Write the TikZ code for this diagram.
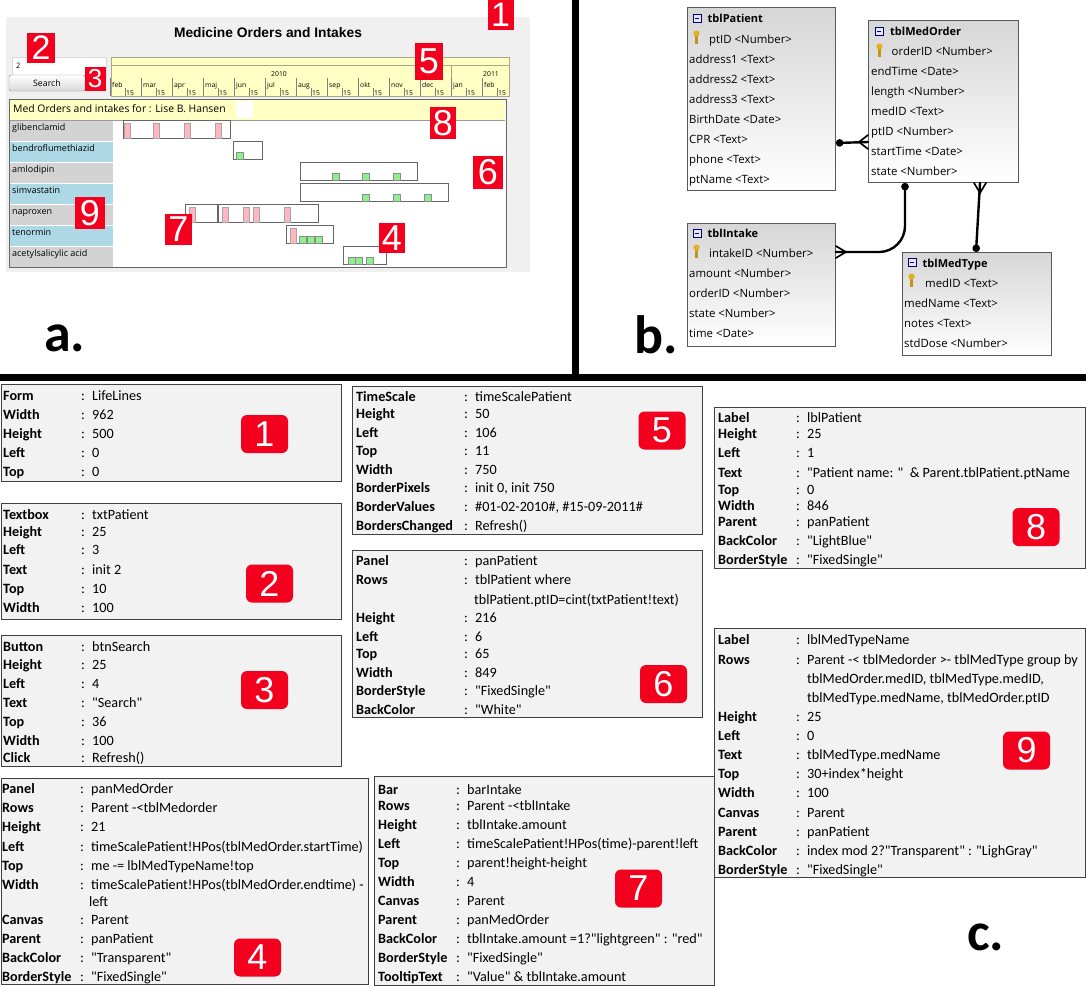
\documentclass[tikz,border=0pt]{standalone}
\usepackage{fontspec}
\newfontfamily\propfont{Carlito}
\newfontfamily\uifont{Open Sans}
\newfontfamily\arialfont{Liberation Sans}
\usetikzlibrary{arrows.meta,positioning,calc}

\definecolor{formgray}{HTML}{F0F0F0}
\definecolor{scaleyellow}{HTML}{FFFFC4}
\definecolor{scaleline}{HTML}{A8A888}
\definecolor{rowgray}{HTML}{D3D3D3}
\definecolor{rowblue}{HTML}{ADD8E6}
\definecolor{barpink}{HTML}{FFB6C1}
\definecolor{bargreen}{HTML}{90EE90}
\definecolor{tagred}{HTML}{F2001E}
\definecolor{propgray}{HTML}{F2F2F2}
\definecolor{keygold}{HTML}{E0B020}

% key, colon and value of one property line
\newcommand{\proprow}[3]{\makebox[#1][l]{\bfseries #2}\makebox[11pt][l]{:}#3}

\begin{document}
\begin{tikzpicture}[x=1pt, y=-1pt,
    tag/.style={fill=tagred, text=white, inner sep=0pt, font=\arialfont\fontsize{36}{36}\selectfont},
    badge/.style={tag, rounded corners=6pt, minimum width=47, minimum height=38},
    panel/.style={draw=black!75, fill=propgray, line width=1pt, anchor=north west, inner sep=0pt},
    prop/.style={anchor=base west, inner sep=0pt, font=\propfont\fontsize{14.2}{14.2}\selectfont},
    tbl/.style={draw=black!65, line width=0.9pt, top color=black!16, bottom color=white, anchor=north west, inner sep=0pt},
    tblrow/.style={anchor=base west, inner sep=0pt, font=\uifont\fontsize{11.4}{11.4}\selectfont},
    tbltitle/.style={tblrow, font=\uifont\bfseries\fontsize{11}{11}\selectfont},
    rel/.style={line width=2.4pt, line cap=round},
    crow/.style={line width=1.7pt, line cap=round},
    medname/.style={anchor=base west, inner sep=0pt, font=\uifont\fontsize{9}{9}\selectfont},
    tiny/.style={anchor=base west, inner sep=0pt, font=\uifont\fontsize{6.8}{6.8}\selectfont},
    orderbox/.style={draw=black!60, line width=0.7pt},
    sublabel/.style={anchor=base west, inner sep=0pt, font=\propfont\bfseries\fontsize{54}{54}\selectfont}
  ]
  \fill[white] (0,0) rectangle (1086,989);
  \useasboundingbox (0,0) rectangle (1086,989);

  % dividing rules
  \draw[line width=7pt] (575.5,0) -- (575.5,377.5);
  \draw[line width=7pt] (0,377.5) -- (1086,377.5);

  %% a. the form
  \fill[formgray] (6,17) rectangle (530,272);
  \node[anchor=base, inner sep=0pt, font=\arialfont\bfseries\fontsize{13.8}{13.8}\selectfont] (title) at (268,37.5) {Medicine Orders and Intakes};
  \node[draw=black!15, fill=white, anchor=north west, inner sep=0pt, minimum width=94, minimum height=20] (txtbox) at (12,57) {};
  \node[tiny, font=\uifont\fontsize{7.5}{7.5}\selectfont] (txtval) at (16,68) {2};
  \node[draw=black!45, rounded corners=2pt, top color=white, bottom color=black!15, inner sep=0pt, minimum width=76, minimum height=16, font=\uifont\fontsize{8.8}{8.8}\selectfont] (search) at (47,83) {Search};

  % time scale
  \filldraw[fill=scaleyellow, draw=scaleline] (111,57) rectangle (509,96);
  \draw[scaleline] (111,65) -- (509,65);
  \draw[scaleline] (451,65) -- (451,96);
  \node[tiny, anchor=base] (y2010) at (279,76) {2010};
  \node[tiny, anchor=base] (y2011) at (491,76) {2011};
  \foreach \m [count=\i from 0] in {feb,mar,apr,maj,jun,jul,aug,sep,okt,nov,dec,jan,feb} {
    \draw[black!50] (110+31*\i,78) -- (110+31*\i,96);
    \draw[black!50] (125+31*\i,88) -- (125+31*\i,96);
    \node[tiny] (mon\i) at (112+31*\i,87.5) {\m};
    \node[tiny] (mid\i) at (126+31*\i,95.5) {15};
  }

  % patient panel
  \filldraw[fill=white, draw=black!60, line width=0.8pt] (9,99) rectangle (506,267);
  \fill[scaleyellow] (10,100) rectangle (505,120);
  \draw[black!40] (10,120) -- (505,120);
  \fill[white] (236,101) rectangle (253,118);
  \node[medname, font=\uifont\fontsize{10.4}{10.4}\selectfont] (ptname) at (13,112) {Med Orders and intakes for : Lise B. Hansen};
  \foreach \n/\c [count=\i from 0] in {glibenclamid/rowgray, bendroflumethiazid/rowblue, amlodipin/rowgray, simvastatin/rowblue, naproxen/rowgray, tenormin/rowblue, acetylsalicylic acid/rowgray} {
    \fill[\c] (10,120.5+21*\i) rectangle (113,140.5+21*\i);
    \node[medname] (med\i) at (12,130+21*\i) {\n};
  }
  % orders and intakes
  \foreach \r/\a/\b in {0/123/230, 1/233/262, 2/300/417, 3/300/448, 4/185/217, 4/218/318, 5/286/333, 6/343/386}
    \draw[orderbox] (\a,120+21*\r) rectangle (\b,138+21*\r);
  \foreach \r/\a in {0/124, 0/153, 0/184, 0/215, 4/189, 4/222, 4/243, 4/253, 4/284, 5/290}
    \filldraw[fill=barpink, draw=black!35] (\a,123+21*\r) rectangle (\a+6,138+21*\r);
  \foreach \r/\a in {1/236, 2/332, 2/362, 2/393, 3/362, 3/393, 3/424, 5/299, 5/307, 5/315, 6/348, 6/355, 6/366}
    \filldraw[fill=bargreen, draw=black!45] (\a,131+21*\r) rectangle (\a+7,138+21*\r);

  \node[tag, minimum width=26, minimum height=30, font=\arialfont\fontsize{34}{34}\selectfont] (t1) at (500.5,15) {1};
  \node[tag, minimum width=28, minimum height=30, font=\arialfont\fontsize{34}{34}\selectfont] (t2) at (41,48) {2};
  \node[tag, minimum width=21, minimum height=24, font=\arialfont\fontsize{26}{26}\selectfont] (t3) at (95,78.5) {3};
  \node[tag, minimum width=28, minimum height=37] (t5) at (429,61.5) {5};
  \node[tag, minimum width=26, minimum height=32] (t8) at (443,123) {8};
  \node[tag, minimum width=30, minimum height=33] (t6) at (488,172.5) {6};
  \node[tag, minimum width=30, minimum height=32] (t9) at (90,213) {9};
  \node[tag, minimum width=27, minimum height=31] (t7) at (178.5,229.5) {7};
  \node[tag, minimum width=26, minimum height=30] (t4) at (392,238) {4};

  %% b. the tables
  \node[tbl, minimum width=148, minimum height=183] (pat) at (687,7) {};
  \node[tbl, minimum width=150, minimum height=162] (ord) at (868,20) {};
  \node[tbl, minimum width=148, minimum height=123] (intk) at (687,223) {};
  \node[tbl, minimum width=149, minimum height=103] (mtype) at (902,252) {};

  \foreach \x/\y in {693/18, 875/31.5, 693/233.5, 908/262.5} {
    \filldraw[draw=blue!45!black, fill=blue!10, line width=0.6pt] (\x,\y-4) rectangle (\x+8,\y+4);
    \draw[blue!45!black, line width=1pt] (\x+2,\y) -- (\x+6,\y);
  }
  \foreach \x/\y in {696.5/37, 879.5/50, 696.5/251, 911.5/280} {
    \fill[keygold!85!black] (\x-1.2,\y-1) rectangle (\x+1.2,\y+6.5);
    \fill[keygold] (\x,\y-3.5) ellipse (3.2 and 3);
  }

  \node[tbltitle] (pat-t) at (707.5,22.3) {tblPatient};
  \node[tblrow] (pat-0) at (709,43.3) {ptID <Number>};
  \foreach \t [count=\i] in {address1 <Text>, address2 <Text>, address3 <Text>, BirthDate <Date>, CPR <Text>, phone <Text>, ptName <Text>}
    \node[tblrow] (pat-\i) at (689,43.3+20*\i) {\t};

  \node[tbltitle] (ord-t) at (890,35.7) {tblMedOrder};
  \node[tblrow] (ord-0) at (891.5,55.7) {orderID <Number>};
  \foreach \t [count=\i] in {endTime <Date>, length <Number>, medID <Text>, ptID <Number>, startTime <Date>, state <Number>}
    \node[tblrow] (ord-\i) at (871,55.7+20*\i) {\t};

  \node[tbltitle] (intk-t) at (707.5,237.7) {tblIntake};
  \node[tblrow] (intk-0) at (709,257.7) {intakeID <Number>};
  \foreach \t [count=\i] in {amount <Number>, orderID <Number>, state <Number>, time <Date>}
    \node[tblrow] (intk-\i) at (689,257.7+20*\i) {\t};

  \node[tbltitle] (mtype-t) at (922.5,267.3) {tblMedType};
  \node[tblrow] (mtype-0) at (925,287.3) {medID <Text>};
  \foreach \t [count=\i] in {medName <Text>, notes <Text>, stdDose <Number>}
    \node[tblrow] (mtype-\i) at (904,287.3+20*\i) {\t};

  % relationships
  \draw[rel, {Circle[length=7.5pt]}-] ($(pat.north east)+(0,136)$) -- ($(ord.north west)+(0,122)$);
  \draw[crow] ($(ord.north west)+(0,115)$) -- ($(ord.north west)+(-9,122)$) -- ($(ord.north west)+(0,129)$);
  \draw[rel, rounded corners=26pt, {Circle[length=7.5pt]}-] ($(ord.south west)+(37,0)$) |- ($(intk.north east)+(0,29)$);
  \draw[crow] ($(intk.north east)+(0,23)$) -- ($(intk.north east)+(10,29)$) -- ($(intk.north east)+(0,35)$);
  \draw[rel, -{Circle[length=7.5pt]}] ($(ord.south west)+(112,0)$) -- ($(mtype.north west)+(74,0)$);
  \draw[crow] ($(ord.south west)+(106,0)$) -- ($(ord.south west)+(112,10)$) -- ($(ord.south west)+(118,0)$);

  %% c. the properties
  \node[panel, minimum width=340, minimum height=97] (pform) at (1,384) {};
  \foreach \y/\k/\v in {400/Form/LifeLines, 419/Width/962, 438/Height/500, 457/Left/0, 476/Top/0}
    \node[prop] (form-\y) at (3,\y) {\proprow{78pt}{\k}{\v}};

  \node[panel, minimum width=340, minimum height=116] (ptxt) at (1,503) {};
  \foreach \y/\k/\v in {519/Textbox/txtPatient, 536/Height/25, 554/Left/3, 574/Text/init 2, 593/Top/10, 612/Width/100}
    \node[prop] (txt-\y) at (3,\y) {\proprow{78pt}{\k}{\v}};

  \node[panel, minimum width=340, minimum height=131] (pbtn) at (1,635) {};
  \foreach \y/\k/\v in {651/Button/btnSearch, 669/Height/25, 688/Left/4, 707/Text/"Search", 726/Top/36, 745/Width/100, 762/Click/Refresh()}
    \node[prop] (btn-\y) at (3,\y) {\proprow{78pt}{\k}{\v}};

  \node[panel, minimum width=367, minimum height=206] (pmedorder) at (1,778) {};
  \foreach \y/\k/\v in {793/Panel/panMedOrder, 812/Rows/Parent -<tblMedorder, 831/Height/21, 851/Left/timeScalePatient!HPos(tblMedOrder.startTime), 870/Top/me -= lblMedTypeName!top, 889/Width/timeScalePatient!HPos(tblMedOrder.endtime) -, 924/Canvas/Parent, 943/Parent/panPatient, 962/BackColor/"Transparent", 981/BorderStyle/"FixedSingle"}
    \node[prop] (medorder-\y) at (2,\y) {\proprow{78pt}{\k}{\v}};
  \node[prop] (medorder-left) at (89,906) {left};

  \node[panel, minimum width=350, minimum height=148] (ptime) at (352,386) {};
  \foreach \y/\k/\v in {401/TimeScale/timeScalePatient, 418/Height/50, 437/Left/106, 455/Top/11, 474/Width/750, 492/BorderPixels/{init 0, init 750}, 511/BorderValues/{\#01-02-2010\#, \#15-09-2011\#}, 530/BordersChanged/Refresh()}
    \node[prop] (time-\y) at (356,\y) {\proprow{108pt}{\k}{\v}};

  \node[panel, minimum width=350, minimum height=167] (ppatient) at (352,550) {};
  \foreach \y/\k/\v in {565/Panel/panPatient, 584/Rows/tblPatient where, 622/Height/216, 641/Left/6, 658/Top/65, 677/Width/849, 695/BorderStyle/"FixedSingle", 714/BackColor/"White"}
    \node[prop] (patient-\y) at (356,\y) {\proprow{108pt}{\k}{\v}};
  \node[prop] (patient-rows) at (474,604) {tblPatient.ptID=cint(txtPatient!text)};

  \node[panel, minimum width=340, minimum height=209] (pbar) at (374,776) {};
  \foreach \y/\k/\v in {794/Bar/barIntake, 810/Rows/Parent -<tblIntake, 829/Height/tblIntake.amount, 848/Left/timeScalePatient!HPos(time)-parent!left, 867/Top/parent!height-height, 886/Width/4, 905/Canvas/Parent, 924/Parent/panMedOrder, 943/BackColor/tblIntake.amount =1?"lightgreen" : "red", 962/BorderStyle/"FixedSingle", 981/TooltipText/"Value" \& tblIntake.amount}
    \node[prop] (bar-\y) at (378,\y) {\proprow{78pt}{\k}{\v}};

  \node[panel, minimum width=371, minimum height=161] (plblpat) at (714,407) {};
  \foreach \y/\k/\v in {422/Label/lblPatient, 438/Height/25, 457/Left/1, 477/Text/"Patient name: "\ \ \& Parent.tblPatient.ptName, 494/Top/0, 510/Width/846, 526/Parent/panPatient, 545/BackColor/"LightBlue", 564/BorderStyle/"FixedSingle"}
    \node[prop] (lblpat-\y) at (718,\y) {\proprow{78pt}{\k}{\v}};

  \node[panel, minimum width=371, minimum height=249] (plblmed) at (714,628) {};
  \foreach \y/\k/\v in {644/Label/lblMedTypeName, 664/Rows/Parent -< tblMedorder >- tblMedType group by, 721/Height/25, 740/Left/0, 759/Text/tblMedType.medName, 778/Top/30+index*height, 797/Width/100, 817/Canvas/Parent, 836/Parent/panPatient, 855/BackColor/index mod 2?"Transparent" : "LighGray", 874/BorderStyle/"FixedSingle"}
    \node[prop] (lblmed-\y) at (718,\y) {\proprow{78pt}{\k}{\v}};
  \node[prop] (lblmed-rows1) at (807,683) {tblMedOrder.medID, tblMedType.medID,};
  \node[prop] (lblmed-rows2) at (807,702) {tblMedType.medName, tblMedOrder.ptID};

  \node[badge] (b1) at (264.5,434) {1};
  \node[badge] (b2) at (269.5,583.5) {2};
  \node[badge] (b3) at (264.5,690) {3};
  \node[badge] (b4) at (257.5,957.5) {4};
  \node[badge] (b5) at (662,430.5) {5};
  \node[badge] (b6) at (663.5,684) {6};
  \node[badge] (b7) at (638.5,888.5) {7};
  \node[badge] (b8) at (1036,527) {8};
  \node[badge] (b9) at (1026.5,750.5) {9};

  % panel letters
  \node[sublabel] (la) at (44,351) {a.};
  \node[sublabel] (lb) at (634,353) {b.};
  \node[sublabel] (lc) at (967,950) {c.};
\end{tikzpicture}
\end{document}
